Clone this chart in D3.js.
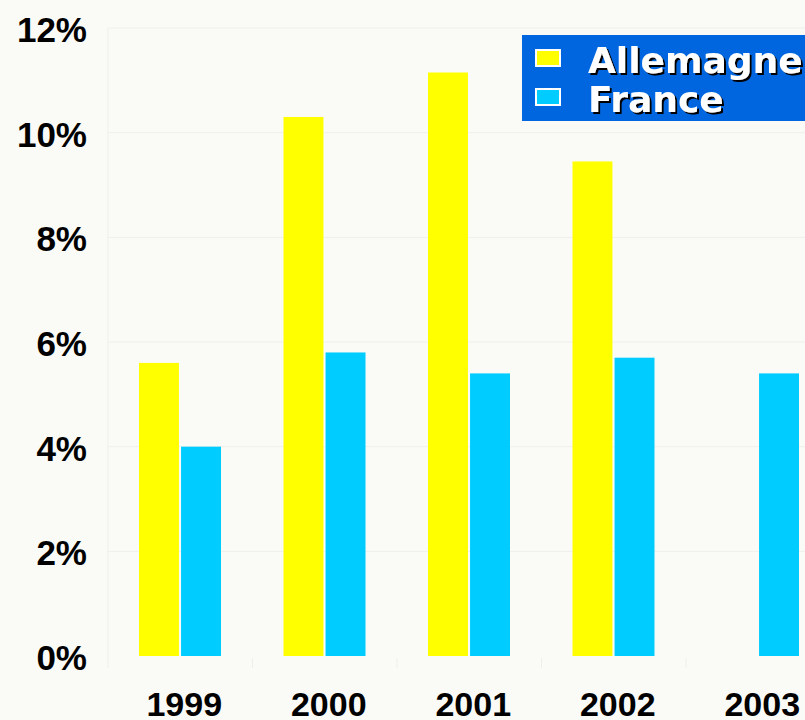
<!DOCTYPE html>
<html>
<head>
<meta charset="utf-8">
<script src="https://cdn.jsdelivr.net/npm/d3@7"></script>
<style>
  body { margin: 0; background: #fafaf7; overflow: hidden; }
  svg { display: block; }
</style>
</head>
<body>
<svg id="chart" width="805" height="720"></svg>
<script>
// values (percent)
const years = ["1999", "2000", "2001", "2002", "2003"];
const allemagne = [5.6, 10.3, 11.15, 9.45, null];
const france = [4.0, 5.8, 5.4, 5.7, 5.4];
const seriesNames = ["Allemagne", "France"];
const seriesColors = ["#ffff00", "#00ccff"];
const yTicks = [0, 2, 4, 6, 8, 10, 12];

const svg = d3.select("#chart");
const margin = { top: 28, left: 108, bottom: 64 };
const height = 720 - margin.top - margin.bottom;

// hard black shadow for the legend text
svg.append("defs").append("filter")
  .attr("id", "shadow")
  .attr("x", "-5%").attr("y", "-20%").attr("width", "115%").attr("height", "150%")
  .append("feDropShadow")
  .attr("dx", 2).attr("dy", 2).attr("stdDeviation", 0)
  .attr("flood-color", "#000").attr("flood-opacity", 1);

const x = d3.scaleBand()
  .domain(years)
  .range([margin.left, margin.left + 5 * 144.5]);

// two bars of ~40px with a thin gap, centred in each year
const xSub = d3.scaleBand()
  .domain(seriesNames)
  .range([31, 113])
  .paddingInner(0.05);

const y = d3.scaleLinear()
  .domain([0, 12])
  .range([margin.top + height, margin.top]);

// faint grid
svg.append("g")
  .selectAll("line")
  .data(yTicks.filter(d => d > 0))
  .join("line")
  .attr("x1", margin.left).attr("x2", 805)
  .attr("y1", d => y(d)).attr("y2", d => y(d))
  .attr("stroke", "#f0f0ea").attr("stroke-width", 1);

svg.append("line")
  .attr("x1", margin.left).attr("x2", margin.left)
  .attr("y1", y(12)).attr("y2", y(0) + 12)
  .attr("stroke", "#efefe8");

svg.append("g")
  .selectAll("line")
  .data(years)
  .join("line")
  .attr("x1", d => x(d) + x.bandwidth()).attr("x2", d => x(d) + x.bandwidth())
  .attr("y1", y(0) + 2).attr("y2", y(0) + 12)
  .attr("stroke", "#efefe8");

// bars
const rows = years.map((yr, i) => ({ year: yr, vals: [allemagne[i], france[i]] }));

const groups = svg.append("g")
  .selectAll("g")
  .data(rows)
  .join("g")
  .attr("transform", d => "translate(" + x(d.year) + ",0)");

groups.selectAll("rect")
  .data(d => d.vals.map((v, j) => ({ name: seriesNames[j], v: v, j: j })).filter(d => d.v != null))
  .join("rect")
  .attr("x", d => xSub(d.name))
  .attr("width", xSub.bandwidth())
  .attr("y", d => y(d.v))
  .attr("height", d => y(0) - y(d.v))
  .attr("fill", d => seriesColors[d.j]);

// y labels
svg.append("g")
  .selectAll("text")
  .data(yTicks)
  .join("text")
  .attr("x", 87)
  .attr("y", d => y(d))
  .attr("dy", "0.4em")
  .attr("text-anchor", "end")
  .style("font-family", "'Liberation Sans', Arial, sans-serif")
  .style("font-weight", "bold")
  .style("font-size", "35px")
  .attr("fill", "#000")
  .text(d => d + "%");

// x labels
svg.append("g")
  .selectAll("text")
  .data(years)
  .join("text")
  .attr("x", d => x(d) + x.bandwidth() / 2 + 4)
  .attr("y", 716)
  .attr("text-anchor", "middle")
  .style("font-family", "'Liberation Sans', Arial, sans-serif")
  .style("font-weight", "bold")
  .style("font-size", "34px")
  .attr("fill", "#000")
  .text(d => d);

// legend
const legend = svg.append("g");
legend.append("rect")
  .attr("x", 522).attr("y", 35)
  .attr("width", 300).attr("height", 86)
  .attr("fill", "#0066e0");

seriesNames.forEach((name, i) => {
  const cy = 58 + i * 39;
  legend.append("rect")
    .attr("x", 536).attr("y", cy - 8)
    .attr("width", 24).attr("height", 16)
    .attr("fill", seriesColors[i])
    .attr("stroke", "#fff").attr("stroke-width", 2);
  legend.append("text")
    .attr("x", 588).attr("y", cy + 15)
    .attr("filter", "url(#shadow)")
    .style("font-family", "'DejaVu Sans', Verdana, sans-serif")
    .style("font-weight", "bold")
    .style("font-size", "36px")
    .attr("fill", "#fff")
    .text(name);
});
</script>
</body>
</html>
